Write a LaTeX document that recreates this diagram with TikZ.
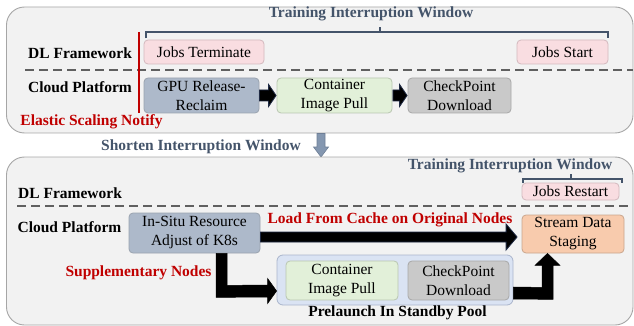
\documentclass[tikz,border=0pt]{standalone}
\usepackage{fontspec}
\setmainfont{Liberation Serif}
\usetikzlibrary{calc}
\definecolor{panelfill}{HTML}{F2F2F2}
\definecolor{panelline}{HTML}{A6A6A6}
\definecolor{slatetxt}{HTML}{44546A}
\definecolor{pinkfill}{HTML}{F9DDE1}
\definecolor{pinkline}{HTML}{D3B9BE}
\definecolor{slatefill}{HTML}{ADB9CA}
\definecolor{slateline}{HTML}{9AA3AF}
\definecolor{greenfill}{HTML}{E2F0D9}
\definecolor{greenline}{HTML}{B9C6B1}
\definecolor{grayfill}{HTML}{C9C9C9}
\definecolor{grayline}{HTML}{A8A8A8}
\definecolor{orangefill}{HTML}{F8CBAD}
\definecolor{orangeline}{HTML}{C9A68D}
\definecolor{poolfill}{HTML}{DAE3F3}
\definecolor{poolline}{HTML}{AAB5CC}
\definecolor{redtxt}{HTML}{C00000}
\definecolor{navyline}{HTML}{1F2A44}
\definecolor{downfill}{HTML}{8497B0}
\definecolor{downline}{HTML}{6F7F96}
\definecolor{dashgray}{HTML}{606060}
\tikzset{
  every node/.style={font=\fontsize{15.5}{19}\selectfont, inner sep=0pt},
  panel/.style={draw=panelline, fill=panelfill, line width=0.9pt, rounded corners=18pt},
  box/.style={draw, line width=0.8pt, rounded corners=4pt, align=center},
  pinkbox/.style={box, fill=pinkfill, draw=pinkline},
  slatebox/.style={box, fill=slatefill, draw=slateline},
  greenbox/.style={box, fill=greenfill, draw=greenline},
  graybox/.style={box, fill=grayfill, draw=grayline},
  orangebox/.style={box, fill=orangefill, draw=orangeline},
  poolbox/.style={box, fill=poolfill, draw=poolline, rounded corners=6pt},
  lanelabel/.style={font=\fontsize{15.5}{19}\selectfont\bfseries},
  redlabel/.style={font=\fontsize{15.5}{19}\selectfont\bfseries, text=redtxt},
  titlelabel/.style={font=\fontsize{15.5}{19}\selectfont\bfseries, text=slatetxt},
  laneline/.style={draw=dashgray, line width=2.6pt, dash pattern=on 9pt off 5pt},
  bracketline/.style={draw=slatetxt, line width=1.2pt},
  blkarrow/.style={fill=black, draw=navyline, line width=0.8pt, line join=miter},
  bigarrow/.style={fill=black, draw=black, line width=0.5pt, line join=miter},
}
\begin{document}
\begin{tikzpicture}[x=1pt, y=-1pt]
\useasboundingbox (0,0) rectangle (634,326);
% ---------- top panel ----------
\draw[panel] (6.5,7) rectangle (633,133);
\node[titlelabel] (t1) at (371,14) {Training Interruption Window};
\draw[bracketline] (146,38.5) -- (146,32) -- (608,32) -- (608,38.5);
\draw[bracketline] (380,32) -- (380,27);
\draw[laneline] (25,70) -- (633,70);
\node[lanelabel] (dl1) at (80,53) {DL Framework};
\node[lanelabel] (cp1) at (80,87) {Cloud Platform};
\node[pinkbox, minimum width=120pt, minimum height=24pt] (jt) at (204,52) {Jobs Terminate};
\node[pinkbox, minimum width=91pt, minimum height=24pt] (js) at (562.5,52) {Jobs Start};
\node[slatebox, minimum width=115pt, minimum height=35pt] (gpu) at (201.5,95.5) {GPU Release-\\Reclaim};
\node[greenbox, minimum width=115pt, minimum height=35pt] (cip) at (334.5,95.5) {Container\\Image Pull};
\node[graybox, minimum width=103pt, minimum height=35pt] (ckp) at (459.5,95.5) {CheckPoint\\Download};
\draw[redtxt, line width=2pt] (139,32) -- (139,113);
\node[redlabel] (esn) at (91.5,122) {Elastic Scaling Notify};
% small block arrows
\filldraw[blkarrow] ($(gpu.east)+(0,-5.5)$) -- ($(cip.west)+(-8,-5.5)$) -- ($(cip.west)+(-8,-11)$) -- ($(cip.west)+(-0.5,0)$) -- ($(cip.west)+(-8,11)$) -- ($(cip.west)+(-8,5.5)$) -- ($(gpu.east)+(0,5.5)$) -- cycle;
\filldraw[blkarrow] ($(cip.east)+(0.5,-5.5)$) -- ($(ckp.west)+(-8,-5.5)$) -- ($(ckp.west)+(-8,-11)$) -- ($(ckp.west)+(-0.5,0)$) -- ($(ckp.west)+(-8,11)$) -- ($(ckp.west)+(-8,5.5)$) -- ($(cip.east)+(0.5,5.5)$) -- cycle;
% ---------- between panels ----------
\node[titlelabel] (siw) at (201,147) {Shorten Interruption Window};
\coordinate (dtop) at (321,133.5);
\coordinate (dtip) at (321,157);
\filldraw[fill=downfill, draw=downline, line width=0.6pt] ($(dtop)+(-4,0)$) -- ($(dtip)+(-4,-10)$) -- ($(dtip)+(-7.5,-10)$) -- (dtip) -- ($(dtip)+(7.5,-10)$) -- ($(dtip)+(4,-10)$) -- ($(dtop)+(4,0)$) -- cycle;
% ---------- bottom panel ----------
\draw[panel] (6.5,157) rectangle (633,325);
\node[titlelabel] (t2) at (510,166) {Training Interruption Window};
\draw[bracketline] (523,183) -- (523,179) -- (622,179) -- (622,183);
\draw[bracketline] (571,179) -- (571,173.5);
\node[pinkbox, minimum width=97pt, minimum height=17pt] (jr) at (570.5,191.5) {Jobs Restart};
\draw[laneline] (17,206) -- (630,206);
\node[lanelabel] (dl2) at (70,193) {DL Framework};
\node[lanelabel] (cp2) at (69.5,227) {Cloud Platform};
\node[slatebox, minimum width=131pt, minimum height=40pt] (insitu) at (194.5,233) {In-Situ Resource\\Adjust of K8s};
\node[orangebox, minimum width=102pt, minimum height=38pt] (stream) at (573,234) {Stream Data\\Staging};
\node[poolbox, minimum width=236pt, minimum height=50pt] (pool) at (395,280) {};
\node[greenbox, minimum width=112pt, minimum height=39pt] (cip2) at (342,280.5) {Container\\Image Pull};
\node[graybox, minimum width=101pt, minimum height=39pt] (ckp2) at (458.5,280.5) {CheckPoint\\Download};
\node[lanelabel] (pisp) at (397.5,313) {Prelaunch In Standby Pool};
\node[redlabel] (supn) at (138.5,273) {Supplementary Nodes};
\node[redlabel] (lfc) at (390,220) {Load From Cache on Original Nodes};
% big arrow: in-situ -> stream
\coordinate (a1s) at (insitu.east |- 0,237);
\coordinate (a1e) at ($(stream.west |- 0,237)+(-4.5,0)$);
\filldraw[blkarrow] ($(a1s)+(0,-5)$) -- ($(a1e)+(-11,-5)$) -- ($(a1e)+(-11,-13)$) -- (a1e) -- ($(a1e)+(-11,13)$) -- ($(a1e)+(-11,5)$) -- ($(a1s)+(0,5)$) -- cycle;
% elbow arrow: in-situ -> pool
\filldraw[bigarrow] ($(insitu.south)+(21.5,0)$) -- ($(insitu.south)+(21.5,44)$) -- ($(pool.west)+(-9,17)$) -- ($(pool.west)+(-9,23.5)$) -- ($(pool.west)+(0,11)$) -- ($(pool.west)+(-9,-1.5)$) -- ($(pool.west)+(-9,5)$) -- ($(insitu.south)+(32.5,32)$) -- ($(insitu.south)+(32.5,0)$) -- cycle;
% elbow arrow: pool -> stream
\filldraw[bigarrow] ($(pool.east)+(0,19)$) -- ($(stream.south)+(-20,46)$) -- ($(stream.south)+(-20,12)$) -- ($(stream.south)+(-13,12)$) -- ($(stream.south)+(-25.5,0)$) -- ($(stream.south)+(-38,12)$) -- ($(stream.south)+(-31,12)$) -- ($(stream.south)+(-31,34)$) -- ($(pool.east)+(0,7)$) -- cycle;
\end{tikzpicture}
\end{document}
